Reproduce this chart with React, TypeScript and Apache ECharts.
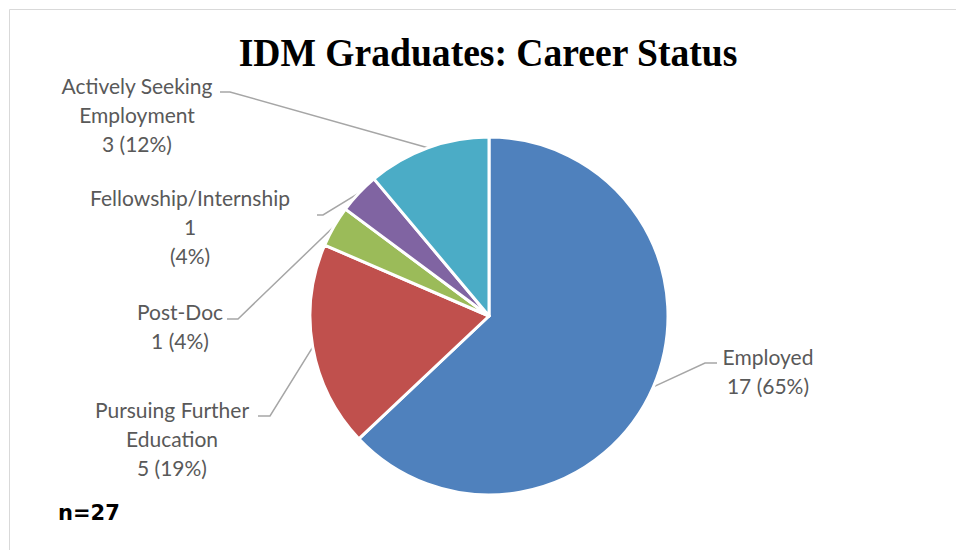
import React, { useEffect, useRef } from "react";
import * as echarts from "echarts";

const categories = [
  "Employed",
  "Pursuing Further\nEducation",
  "Post-Doc",
  "Fellowship/Internship",
  "Actively Seeking\nEmployment",
];
const counts = [17, 5, 1, 1, 3];
const pctLabels = ["65%", "19%", "4%", "4%", "12%"];
const countSeparators = [" ", " ", " ", "\n", " "];
const colors = ["#4F81BD", "#C0504D", "#9BBB59", "#8064A2", "#4BACC6"];
const titleText = "IDM Graduates: Career Status";
const noteText = "n=27";

// label block centres and leader-line elbows/ends (layout only)
const labelLayouts = [
  { x: 768, y: 371, elbow: [705, 363], end: [717, 363] },
  { x: 172, y: 438, elbow: [270, 416], end: [258, 416] },
  { x: 180, y: 326, elbow: [238, 319], end: [227, 319] },
  { x: 190, y: 226, elbow: [323, 215], end: [317, 215] },
  { x: 137, y: 114, elbow: [230, 92], end: [220, 92] },
];

export default function App() {
  const ref = useRef<HTMLDivElement>(null);
  useEffect(() => {
    if (!ref.current) return;
    const chart = echarts.init(ref.current, null, { renderer: "svg" });
    const data = categories.map((name, i) => ({
      name,
      value: counts[i],
      itemStyle: { color: colors[i] },
    }));
    chart.setOption({
      animation: false,
      backgroundColor: "#ffffff",
      graphic: [
        {
          type: "rect",
          silent: true,
          z: -10,
          shape: { x: 9.5, y: 9.5, width: 1000, height: 600 },
          style: { fill: "none", stroke: "#D9D9D9", lineWidth: 1 },
        },
        {
          type: "text",
          x: 488,
          y: 52,
          scaleX: 0.94,
          style: {
            text: titleText,
            fontFamily: "Liberation Serif",
            fontWeight: "bold",
            fontSize: 40,
            fill: "#000000",
            align: "center",
            verticalAlign: "middle",
          },
        },
        {
          type: "text",
          x: 58,
          y: 513,
          style: {
            text: noteText,
            fontFamily: "DejaVu Sans",
            fontWeight: "bold",
            fontSize: 21,
            fill: "#000000",
            align: "left",
            verticalAlign: "middle",
          },
        },
      ],
      series: [
        {
          type: "pie",
          center: [489, 316],
          radius: 179,
          startAngle: 90,
          clockwise: true,
          avoidLabelOverlap: false,
          minShowLabelAngle: 0,
          itemStyle: { borderColor: "#ffffff", borderWidth: 3 },
          emphasis: { disabled: true },
          label: {
            show: true,
            position: "outside",
            fontFamily: "Lato",
            fontSize: 21,
            lineHeight: 29,
            color: "#595959",
            align: "center",
            formatter: (p: any) =>
              `${p.name}\n${p.value}${countSeparators[p.dataIndex]}(${pctLabels[p.dataIndex]})`,
          },
          labelLine: {
            show: true,
            length: 10,
            length2: 10,
            lineStyle: { color: "#A6A6A6", width: 1.5 },
          },
          labelLayout: (params: any) => {
            const l = labelLayouts[params.dataIndex];
            const pts = params.labelLinePoints;
            const out: any = {
              x: l.x,
              y: l.y,
              align: "center",
              verticalAlign: "middle",
            };
            if (pts && pts.length) {
              out.labelLinePoints = [pts[0], l.elbow, l.end];
            }
            return out;
          },
          data,
        },
      ],
    });
    return () => chart.dispose();
  }, []);
  return (
    <div
      ref={ref}
      style={{ position: "fixed", left: 0, top: 0, width: 956, height: 550 }}
    />
  );
}
